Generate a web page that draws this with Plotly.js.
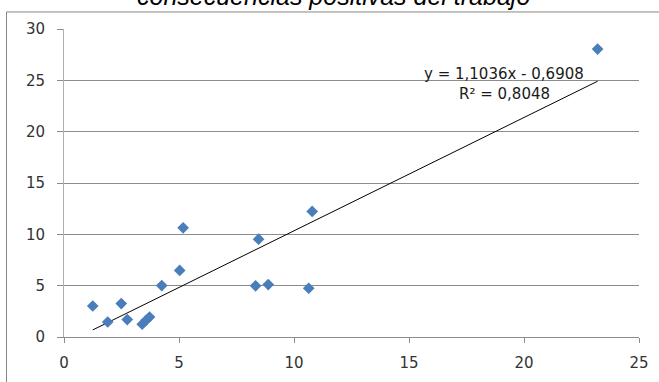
<!DOCTYPE html>
<html>
<head>
<meta charset="utf-8">
<script src="https://cdn.plot.ly/plotly-3.0.1.min.js"></script>
<style>html,body{margin:0;padding:0;background:#fff;}#chart{width:659px;height:382px;}</style>
</head>
<body>
<div id="chart"></div>
<script>
const titleText = "consecuencias positivas del trabajo";
const xValues = [1.25, 1.90, 2.49, 2.75, 3.40, 3.57, 3.72, 4.25, 5.03, 5.18, 8.33, 8.46, 8.88, 10.64, 10.79, 23.20];
const yValues = [3.02, 1.46, 3.26, 1.70, 1.24, 1.63, 1.95, 5.01, 6.48, 10.63, 4.98, 9.53, 5.11, 4.75, 12.23, 28.04];
const trendSlope = 1.1036;
const trendIntercept = -0.6908;
const equationText = "y = 1,1036x - 0,6908";
const r2Text = "R² = 0,8048";
const xTicks = [0, 5, 10, 15, 20, 25];
const yTicks = [0, 5, 10, 15, 20, 25, 30];

const xMin = Math.min(...xValues), xMax = Math.max(...xValues);
const trendX = [xMin, xMax];
const trendY = trendX.map(v => trendSlope * v + trendIntercept);

const data = [
  {x: trendX, y: trendY, type: 'scatter', mode: 'lines',
   line: {color: '#000000', width: 1}, hoverinfo: 'skip'},
  {x: xValues, y: yValues, type: 'scatter', mode: 'markers',
   marker: {symbol: 'diamond', size: 9, color: '#4a7ebb', line: {width: 0}}}
];

const layout = {
  width: 659, height: 382,
  margin: {l: 64, r: 20, t: 29, b: 45, pad: 0},
  paper_bgcolor: '#ffffff', plot_bgcolor: '#ffffff',
  showlegend: false, hovermode: false,
  font: {family: 'DejaVu Sans', size: 15, color: '#333333'},
  xaxis: {range: [0, 25], tickvals: xTicks, ticktext: xTicks.map(String),
    showgrid: false, zeroline: false, showline: true, linecolor: '#8c8c8c', linewidth: 1,
    ticks: 'outside', ticklen: 5, tickcolor: '#8c8c8c', ticklabelstandoff: 7,
    tickfont: {family: 'DejaVu Sans', size: 15, color: '#333333'}},
  yaxis: {range: [0, 30], tickvals: yTicks, ticktext: yTicks.map(String),
    showgrid: true, gridcolor: '#8c8c8c', gridwidth: 1, zeroline: false,
    showline: true, linecolor: '#b0b0b0', linewidth: 1,
    ticks: 'outside', ticklen: 6, tickcolor: '#8c8c8c', ticklabelstandoff: 9,
    tickfont: {family: 'DejaVu Sans', size: 15, color: '#333333'}},
  shapes: [
    {type: 'rect', xref: 'paper', yref: 'paper', x0: -0.1, x1: 1.2, y0: -0.3, y1: 1.0553,
     line: {color: '#868686', width: 1}, fillcolor: 'rgba(0,0,0,0)'}
  ],
  annotations: [
    {text: titleText, xref: 'paper', yref: 'paper', x: (333 - 64) / 575, y: 1.0553,
     xanchor: 'center', yanchor: 'bottom', showarrow: false,
     font: {family: 'Liberation Sans', size: 25, color: '#000000', style: 'italic'}},
    {text: equationText, xref: 'x', yref: 'y', x: 19.15, y: 25.6,
     xanchor: 'center', yanchor: 'middle', showarrow: false,
     font: {family: 'DejaVu Sans', size: 15, color: '#1a1a1a'}},
    {text: r2Text, xref: 'x', yref: 'y', x: 19.15, y: 23.7,
     xanchor: 'center', yanchor: 'middle', showarrow: false,
     font: {family: 'DejaVu Sans', size: 15, color: '#1a1a1a'}}
  ]
};

Plotly.newPlot('chart', data, layout, {displayModeBar: false, staticPlot: true});
</script>
</body>
</html>
